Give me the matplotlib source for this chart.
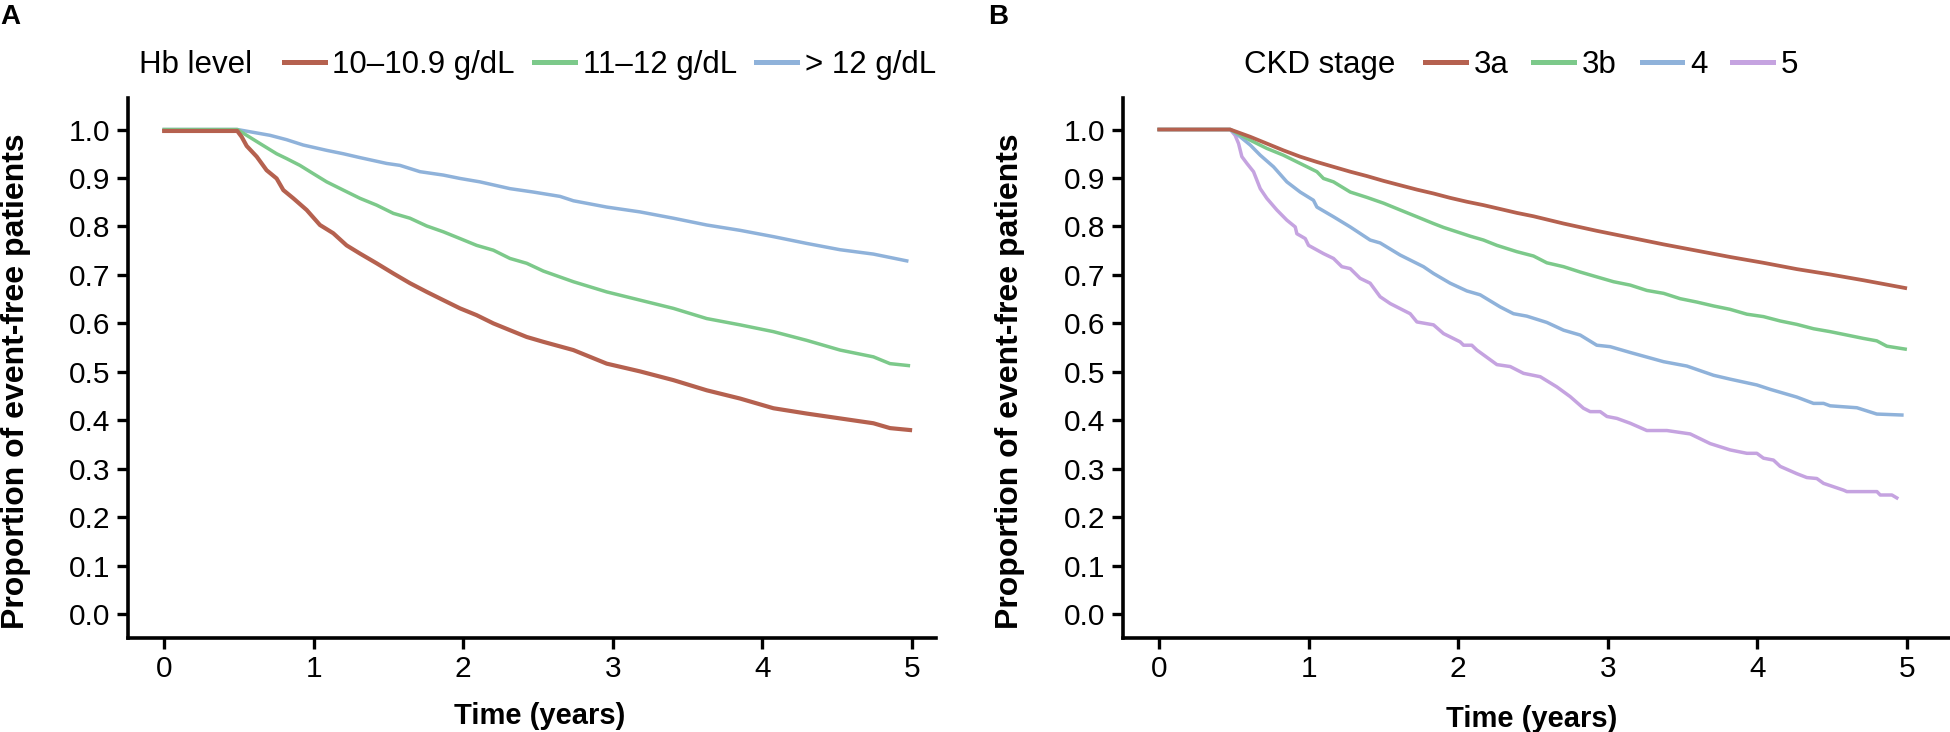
import matplotlib
matplotlib.use("Agg")
import matplotlib.pyplot as plt
from matplotlib.lines import Line2D

plt.rcParams['font.family'] = ['Liberation Sans', 'DejaVu Sans']

# ---------------- Data ----------------
# Panel A: Hb level
hb_labels = ["10\u201310.9 g/dL", "11\u201312 g/dL", "> 12 g/dL"]
hb1_t = [0, 0.489, 0.518, 0.552, 0.619, 0.685, 0.752, 0.797, 0.864, 0.953, 1.042, 1.131, 1.220, 1.310, 1.421,
         1.533, 1.644, 1.756, 1.867, 1.979, 2.090, 2.202, 2.313, 2.425, 2.536, 2.737, 2.960, 3.183, 3.406,
         3.629, 3.852, 4.075, 4.298, 4.521, 4.744, 4.855, 4.989]
hb1_v = [0.997, 0.997, 0.985, 0.966, 0.944, 0.916, 0.899, 0.875, 0.858, 0.834, 0.803, 0.786, 0.761, 0.744, 0.724,
         0.703, 0.683, 0.665, 0.648, 0.631, 0.617, 0.600, 0.586, 0.572, 0.562, 0.545, 0.517, 0.501, 0.483,
         0.462, 0.445, 0.425, 0.414, 0.404, 0.394, 0.384, 0.380]
hb2_t = [0, 0.489, 0.552, 0.641, 0.752, 0.819, 0.908, 0.997, 1.087, 1.198, 1.310, 1.421, 1.533, 1.644, 1.756,
         1.867, 1.979, 2.090, 2.202, 2.313, 2.425, 2.536, 2.737, 2.960, 3.183, 3.406, 3.629, 3.852, 4.075,
         4.298, 4.521, 4.744, 4.855, 4.978]
hb2_v = [1.0, 1.0, 0.988, 0.971, 0.950, 0.940, 0.926, 0.909, 0.892, 0.875, 0.858, 0.844, 0.827, 0.817, 0.801,
         0.789, 0.775, 0.761, 0.751, 0.734, 0.724, 0.708, 0.686, 0.665, 0.648, 0.631, 0.610, 0.597, 0.583,
         0.565, 0.545, 0.531, 0.517, 0.513]
hb3_t = [0, 0.489, 0.708, 0.819, 0.930, 1.087, 1.198, 1.310, 1.488, 1.577, 1.711, 1.867, 1.979, 2.112, 2.313,
         2.469, 2.648, 2.737, 2.960, 3.183, 3.406, 3.629, 3.852, 4.075, 4.298, 4.521, 4.744, 4.967]
hb3_v = [1.0, 1.0, 0.988, 0.979, 0.968, 0.957, 0.950, 0.942, 0.930, 0.926, 0.913, 0.906, 0.899, 0.892, 0.878,
         0.871, 0.862, 0.853, 0.840, 0.830, 0.817, 0.803, 0.792, 0.779, 0.765, 0.752, 0.743, 0.729]

# Panel B: CKD stage
ckd_labels = ["3a", "3b", "4", "5"]
ckd3a_t = [0, 0.475, 0.609, 0.720, 0.831, 0.943, 1.055, 1.166, 1.278, 1.389, 1.501, 1.612, 1.724, 1.835, 1.946,
           2.058, 2.169, 2.281, 2.392, 2.504, 2.705, 2.927, 3.151, 3.374, 3.597, 3.819, 4.042, 4.265, 4.488,
           4.711, 4.990]
ckd3a_v = [1.0, 1.0, 0.985, 0.971, 0.957, 0.944, 0.933, 0.923, 0.913, 0.904, 0.894, 0.885, 0.876, 0.868, 0.859,
           0.851, 0.844, 0.836, 0.828, 0.821, 0.806, 0.791, 0.777, 0.763, 0.750, 0.737, 0.725, 0.712, 0.701,
           0.689, 0.673]
ckd3b_t = [0, 0.475, 0.609, 0.720, 0.831, 0.943, 1.055, 1.099, 1.166, 1.278, 1.389, 1.501, 1.612, 1.724, 1.835,
           1.902, 1.991, 2.080, 2.169, 2.259, 2.392, 2.504, 2.593, 2.705, 2.816, 2.927, 3.039, 3.151, 3.262,
           3.374, 3.485, 3.597, 3.708, 3.819, 3.931, 4.042, 4.154, 4.265, 4.377, 4.488, 4.600, 4.711, 4.800,
           4.867, 4.990]
ckd3b_v = [1.0, 1.0, 0.978, 0.961, 0.947, 0.930, 0.913, 0.899, 0.892, 0.871, 0.860, 0.848, 0.834, 0.820, 0.806,
           0.798, 0.789, 0.780, 0.772, 0.761, 0.748, 0.739, 0.725, 0.717, 0.706, 0.696, 0.686, 0.679, 0.668,
           0.662, 0.651, 0.644, 0.636, 0.629, 0.619, 0.614, 0.605, 0.598, 0.589, 0.583, 0.576, 0.569, 0.564,
           0.553, 0.547]
ckd4_t = [0, 0.475, 0.542, 0.609, 0.676, 0.765, 0.854, 0.943, 1.032, 1.055, 1.166, 1.278, 1.411, 1.478, 1.612,
          1.768, 1.835, 1.946, 2.058, 2.147, 2.281, 2.370, 2.459, 2.593, 2.705, 2.816, 2.927, 3.017, 3.151,
          3.374, 3.530, 3.708, 3.819, 3.998, 4.087, 4.265, 4.377, 4.444, 4.488, 4.667, 4.800, 4.968]
ckd4_v = [1.0, 1.0, 0.985, 0.968, 0.947, 0.923, 0.892, 0.871, 0.854, 0.840, 0.820, 0.799, 0.772, 0.766, 0.741,
          0.717, 0.703, 0.683, 0.667, 0.659, 0.634, 0.620, 0.615, 0.602, 0.586, 0.576, 0.555, 0.552, 0.540,
          0.521, 0.512, 0.493, 0.485, 0.473, 0.464, 0.448, 0.435, 0.435, 0.430, 0.426, 0.413, 0.411]
ckd5_t = [0, 0.475, 0.508, 0.531, 0.553, 0.587, 0.631, 0.676, 0.720, 0.787, 0.854, 0.910, 0.921, 0.977, 0.999,
          1.099, 1.166, 1.222, 1.278, 1.344, 1.411, 1.478, 1.545, 1.634, 1.679, 1.724, 1.835, 1.902, 2.013,
          2.036, 2.091, 2.125, 2.259, 2.348, 2.437, 2.549, 2.660, 2.749, 2.838, 2.883, 2.950, 2.995, 3.062,
          3.151, 3.262, 3.396, 3.552, 3.686, 3.819, 3.931, 3.998, 4.042, 4.109, 4.154, 4.265, 4.332, 4.399,
          4.444, 4.578, 4.600, 4.801, 4.823, 4.901, 4.934]
ckd5_v = [1.0, 1.0, 0.988, 0.971, 0.944, 0.930, 0.913, 0.878, 0.858, 0.834, 0.813, 0.799, 0.785, 0.775, 0.761,
          0.744, 0.734, 0.717, 0.713, 0.693, 0.683, 0.655, 0.641, 0.627, 0.620, 0.603, 0.597, 0.579, 0.562,
          0.555, 0.555, 0.545, 0.515, 0.511, 0.497, 0.490, 0.469, 0.449, 0.425, 0.418, 0.418, 0.408, 0.404,
          0.394, 0.379, 0.379, 0.372, 0.352, 0.339, 0.332, 0.332, 0.322, 0.318, 0.305, 0.290, 0.282, 0.280,
          0.270, 0.256, 0.253, 0.253, 0.246, 0.246, 0.240]

x_ticks = [0, 1, 2, 3, 4, 5]
y_ticks = [0.0, 0.1, 0.2, 0.3, 0.4, 0.5, 0.6, 0.7, 0.8, 0.9, 1.0]

# ---------------- Styling ----------------
c_red = "#B5614F"
c_green = "#7CC98A"
c_blue = "#8FB2DA"
c_purple = "#C5A3E0"

W, H = 1950, 732
fig = plt.figure(figsize=(W / 100, H / 100), dpi=100)

AX_TOP, AX_BOT = 98, 638
A_L, A_R = 128, 936
B_L, B_R = 1123, 1950
axA = fig.add_axes([A_L / W, 1 - AX_BOT / H, (A_R - A_L) / W, (AX_BOT - AX_TOP) / H])
axB = fig.add_axes([B_L / W, 1 - AX_BOT / H, (B_R - B_L) / W, (AX_BOT - AX_TOP) / H])

def style(ax, xmax):
    ax.set_xlim(-0.242, xmax)
    ax.set_ylim(-0.049, 1.065)
    for s in ["top", "right"]:
        ax.spines[s].set_visible(False)
    for s in ["left", "bottom"]:
        ax.spines[s].set_linewidth(2.6)
    ax.set_xticks(x_ticks)
    ax.set_xticklabels([str(v) for v in x_ticks])
    ax.set_yticks(y_ticks)
    ax.set_yticklabels(["%.1f" % v for v in y_ticks])
    ax.tick_params(axis="both", length=8, width=2.4, labelsize=21.5, pad=4.5, color="black")
    ax.set_xlabel("Time (years)", fontsize=21, fontweight="bold", va="center", ha="center")
    ax.set_ylabel("Proportion of event-free patients", fontsize=23, fontweight="bold",
                  va="center", ha="center")
    ax.patch.set_alpha(0)

style(axA, -0.242 + (A_R - A_L) / 149.5)
style(axB, -0.242 + (B_R - B_L) / 149.5)
wA, wB, hh = A_R - A_L, B_R - B_L, AX_BOT - AX_TOP
axA.xaxis.set_label_coords((540 - A_L) / wA, (AX_BOT - 716) / hh)
axB.xaxis.set_label_coords((1532 - B_L) / wB, (AX_BOT - 719) / hh)
axA.yaxis.set_label_coords((16 - A_L) / wA, (AX_BOT - 381) / hh)
axB.yaxis.set_label_coords((1010 - B_L) / wB, (AX_BOT - 381) / hh)

axA.plot(hb3_t, hb3_v, color=c_blue, lw=2.5)
axA.plot(hb2_t, hb2_v, color=c_green, lw=2.5)
axA.plot(hb1_t, hb1_v, color=c_red, lw=3.0)

axB.plot(ckd5_t, ckd5_v, color=c_purple, lw=2.5)
axB.plot(ckd4_t, ckd4_v, color=c_blue, lw=2.5)
axB.plot(ckd3b_t, ckd3b_v, color=c_green, lw=2.5)
axB.plot(ckd3a_t, ckd3a_v, color=c_red, lw=2.7)

# Legends
leg_fs = 22.5
def make_legend(ax, title, labels, colors, title_x, leg_x, y, colsp):
    ax.text(title_x, y, title, transform=ax.transAxes, fontsize=leg_fs, va="center", ha="left")
    handles = [Line2D([], [], color=c, lw=3.6) for c in colors]
    lg = ax.legend(handles, labels, ncol=len(labels), loc="center left", bbox_to_anchor=(leg_x, y),
                   frameon=False, fontsize=leg_fs, handlelength=1.3, handletextpad=0.25,
                   columnspacing=colsp, borderpad=0, borderaxespad=0)
    return lg

yleg = (AX_BOT - 65) / hh
make_legend(axA, "Hb level", hb_labels, [c_red, c_green, c_blue], (139 - A_L) / wA, (284 - A_L) / wA, yleg, 0.62)
make_legend(axB, "CKD stage", ckd_labels, [c_red, c_green, c_blue, c_purple], (1244 - B_L) / wB,
            (1425 - B_L) / wB, yleg, 0.8)

fig.text(0 / W, 1 - 4 / H, "A", fontsize=20, fontweight="bold", va="top", ha="left")
fig.text(988 / W, 1 - 4 / H, "B", fontsize=20, fontweight="bold", va="top", ha="left")

fig.savefig("out.png", dpi=100, facecolor="white")
